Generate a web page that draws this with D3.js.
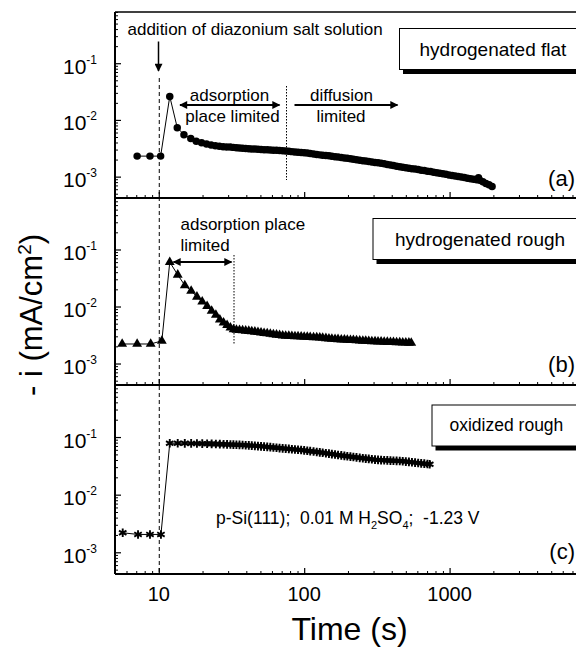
<!DOCTYPE html>
<html><head><meta charset="utf-8">
<script src="https://cdn.jsdelivr.net/npm/d3@7"></script>
<style>
body{margin:0;background:#fff}
svg{display:block}
text{font-family:"Liberation Sans",Arial,Helvetica,sans-serif;fill:#000}
</style>
</head><body>
<svg id="c" width="576" height="648"></svg>
<script>
// ---- data ----
const timeA = [7.1, 8.7, 10.3, 11.9, 13.4, 14.9, 16.6, 18.1, 19.7, 21.3, 22.9, 24.5, 26.1, 27.7, 29.3, 31, 32.6, 34.2, 35.9, 37.7, 39.6, 41.6, 43.6, 45.8, 48.1, 50.5, 53, 55.7, 58.5, 61.4, 64.5, 67.7, 71.1, 74.6, 78.4, 82.3, 86.4, 90.7, 95.3, 100, 105, 110, 116, 122, 128, 134, 141, 148, 155, 163, 171, 180, 189, 198, 208, 218, 229, 241, 253, 265, 278, 292, 307, 322, 338, 355, 373, 392, 411, 432, 454, 476, 500, 525, 551, 579, 608, 638, 670, 704, 739, 776, 815, 855, 898, 943, 990, 1040, 1092, 1146, 1204, 1264, 1327, 1393, 1463, 1536, 1580, 1613, 1694, 1778, 1867, 1960];
const currentA = [2.3e-3, 2.3e-3, 2.3e-3, 0.026, 7.3e-3, 5.5e-3, 4.7e-3, 4.2e-3, 3.95e-3, 3.75e-3, 3.6e-3, 3.5e-3, 3.42e-3, 3.37e-3, 3.33e-3, 3.32e-3, 3.28e-3, 3.24e-3, 3.21e-3, 3.17e-3, 3.14e-3, 3.1e-3, 3.08e-3, 3.06e-3, 3.03e-3, 3.01e-3, 2.99e-3, 2.97e-3, 2.95e-3, 2.93e-3, 2.91e-3, 2.88e-3, 2.85e-3, 2.82e-3, 2.79e-3, 2.76e-3, 2.73e-3, 2.7e-3, 2.67e-3, 2.64e-3, 2.6e-3, 2.55e-3, 2.51e-3, 2.46e-3, 2.42e-3, 2.39e-3, 2.35e-3, 2.33e-3, 2.29e-3, 2.25e-3, 2.21e-3, 2.17e-3, 2.13e-3, 2.1e-3, 2.06e-3, 2.02e-3, 1.99e-3, 1.95e-3, 1.91e-3, 1.88e-3, 1.85e-3, 1.82e-3, 1.78e-3, 1.75e-3, 1.72e-3, 1.68e-3, 1.64e-3, 1.6e-3, 1.57e-3, 1.53e-3, 1.5e-3, 1.47e-3, 1.44e-3, 1.41e-3, 1.38e-3, 1.36e-3, 1.33e-3, 1.3e-3, 1.28e-3, 1.25e-3, 1.23e-3, 1.2e-3, 1.17e-3, 1.15e-3, 1.12e-3, 1.1e-3, 1.07e-3, 1.05e-3, 1.03e-3, 1.01e-3, 9.85e-4, 9.62e-4, 9.4e-4, 9.2e-4, 9.0e-4, 8.8e-4, 9.6e-4, 8.6e-4, 8.1e-4, 7.6e-4, 7.2e-4, 6.7e-4];

const timeB = [5.6, 7.1, 8.8, 10.5, 11.9, 13.5, 15.1, 16.7, 18.3, 19.9, 21.5, 23.1, 24.7, 26.3, 27.9, 29.5, 31.1, 32.7, 34.2, 35.9, 37.7, 39.6, 41.6, 43.6, 45.8, 48.1, 50.5, 53, 55.7, 58.5, 61.4, 64.5, 67.7, 71.1, 74.6, 78.4, 82.3, 86.4, 90.7, 95.3, 100, 105, 110, 116, 122, 128, 134, 141, 148, 155, 163, 171, 180, 189, 198, 208, 218, 229, 241, 253, 265, 278, 292, 307, 322, 338, 355, 373, 392, 411, 432, 454, 476, 500, 525, 545];
const currentB = [2.2e-3, 2.2e-3, 2.2e-3, 2.5e-3, 0.06, 0.036, 0.0235, 0.0188, 0.0148, 0.0122, 0.0101, 8.4e-3, 7.1e-3, 5.85e-3, 5.2e-3, 4.7e-3, 4.25e-3, 3.95e-3, 3.9e-3, 3.85e-3, 3.8e-3, 3.75e-3, 3.71e-3, 3.66e-3, 3.6e-3, 3.54e-3, 3.48e-3, 3.42e-3, 3.36e-3, 3.31e-3, 3.25e-3, 3.19e-3, 3.14e-3, 3.09e-3, 3.06e-3, 3.04e-3, 3.02e-3, 3.0e-3, 2.98e-3, 2.96e-3, 2.94e-3, 2.92e-3, 2.9e-3, 2.88e-3, 2.86e-3, 2.83e-3, 2.8e-3, 2.77e-3, 2.74e-3, 2.71e-3, 2.68e-3, 2.66e-3, 2.63e-3, 2.61e-3, 2.59e-3, 2.57e-3, 2.56e-3, 2.54e-3, 2.52e-3, 2.5e-3, 2.49e-3, 2.47e-3, 2.45e-3, 2.44e-3, 2.42e-3, 2.41e-3, 2.4e-3, 2.38e-3, 2.37e-3, 2.36e-3, 2.35e-3, 2.34e-3, 2.33e-3, 2.32e-3, 2.31e-3, 2.3e-3];

const timeC = [5.65, 7.2, 8.7, 10.35, 11.9, 13.5, 15.1, 16.7, 18.3, 19.9, 21.5, 23.1, 24.7, 26.3, 27.9, 29.5, 31.1, 32.6, 34.2, 35.9, 37.7, 39.6, 41.6, 43.6, 45.8, 48.1, 50.5, 53, 55.7, 58.5, 61.4, 64.5, 67.7, 71.1, 74.6, 78.4, 82.3, 86.4, 90.7, 95.3, 100, 105, 110, 116, 122, 128, 134, 141, 148, 155, 163, 171, 180, 189, 198, 208, 218, 229, 241, 253, 265, 278, 292, 307, 322, 338, 355, 373, 392, 411, 432, 454, 476, 500, 525, 551, 579, 608, 638, 670, 704, 730];
const currentC = [2.18e-3, 2.04e-3, 2.04e-3, 2.04e-3, 0.078, 0.078, 0.0778, 0.0775, 0.0772, 0.0769, 0.0765, 0.0761, 0.0757, 0.0753, 0.0749, 0.0745, 0.0741, 0.0738, 0.0735, 0.0731, 0.0727, 0.0722, 0.0716, 0.071, 0.0704, 0.0697, 0.069, 0.0683, 0.0675, 0.0667, 0.0659, 0.0651, 0.0643, 0.0636, 0.0629, 0.0622, 0.0615, 0.0608, 0.0602, 0.0595, 0.0587, 0.0578, 0.0569, 0.056, 0.0551, 0.0542, 0.0533, 0.0524, 0.0515, 0.0506, 0.0497, 0.0488, 0.048, 0.0472, 0.0465, 0.0457, 0.045, 0.0443, 0.0436, 0.0429, 0.0423, 0.0417, 0.0411, 0.0405, 0.0401, 0.0398, 0.0395, 0.0393, 0.039, 0.0388, 0.0386, 0.0384, 0.038, 0.0375, 0.037, 0.0365, 0.036, 0.0355, 0.035, 0.0345, 0.0341, 0.0337];

const xMajorTicks = [10, 100, 1000];
const xTickLabels = ["10", "100", "1000"];
const yMajorTicks = [1e-1, 1e-2, 1e-3];
const yTickExponents = ["-1", "-2", "-3"];
const panelLabels = ["(a)", "(b)", "(c)"];
const legendNames = ["hydrogenated flat", "hydrogenated rough", "oxidized rough"];
const markerShapes = ["circle", "triangle", "asterisk"];
const additionTime = 10;

// ---- layout ----
const svg = d3.select("#c");
const x = d3.scaleLog().domain([5, 10000]).range([115, 595]);
const yDomain = [4.2e-4, 0.8];
const bounds = [[12, 198], [198, 385], [385, 574]];
const series = [[timeA, currentA], [timeB, currentB], [timeC, currentC]];

const xMinor = [];
for (let k = 0; k <= 3; k++) for (let m = 2; m <= 9; m++) {
  const v = m * Math.pow(10, k);
  if (v >= 5 && v <= 10000 && !xMajorTicks.includes(v)) xMinor.push(v);
}
const yMinor = [];
for (let k = -4; k <= -1; k++) for (let m = 2; m <= 9; m++) {
  const v = m * Math.pow(10, k);
  if (v >= yDomain[0] && v <= yDomain[1]) yMinor.push(v);
}

const defs = svg.append("defs");
defs.append("marker").attr("id", "ah").attr("viewBox", "0 0 10 10").attr("refX", 9).attr("refY", 5)
  .attr("markerWidth", 10).attr("markerHeight", 8).attr("markerUnits", "userSpaceOnUse")
  .attr("orient", "auto-start-reverse")
  .append("path").attr("d", "M0,0L10,5L0,10Z").attr("fill", "#000");

const ys = [];
bounds.forEach(([top, bottom], i) => {
  const y = d3.scaleLog().domain(yDomain).range([bottom, top]);
  ys.push(y);
  const gx0 = x.range()[0];

  const gm = svg.append("g").attr("transform", `translate(${gx0},0)`)
    .call(d3.axisLeft(y).tickValues(yMinor).tickSize(-3).tickFormat(""));
  gm.select(".domain").remove();
  gm.selectAll("line").attr("stroke", "#000").attr("stroke-width", 1);
  const gM = svg.append("g").attr("transform", `translate(${gx0},0)`)
    .call(d3.axisLeft(y).tickValues(yMajorTicks).tickSize(-6).tickFormat(""));
  gM.select(".domain").remove();
  gM.selectAll("line").attr("stroke", "#000").attr("stroke-width", 1.2);

  const xm = svg.append("g").attr("transform", `translate(0,${bottom})`)
    .call(d3.axisBottom(x).tickValues(xMinor).tickSize(-3).tickFormat(""));
  xm.select(".domain").remove();
  xm.selectAll("line").attr("stroke", "#000").attr("stroke-width", 1);
  const xM = svg.append("g").attr("transform", `translate(0,${bottom})`)
    .call(d3.axisBottom(x).tickValues(xMajorTicks).tickSize(-6).tickFormat(""));
  xM.select(".domain").remove();
  xM.selectAll("line").attr("stroke", "#000").attr("stroke-width", 1.2);

  yMajorTicks.forEach((v, j) => {
    const t = svg.append("text").attr("x", 97).attr("y", y(v) + 10.5)
      .attr("text-anchor", "end").attr("font-size", 21).text("10");
    t.append("tspan").attr("dy", -10).attr("font-size", 12).text(yTickExponents[j]);
  });

  svg.append("line").attr("x1", gx0).attr("x2", 600).attr("y1", bottom).attr("y2", bottom)
    .attr("stroke", "#000").attr("stroke-width", 2);
  svg.append("line").attr("x1", gx0).attr("x2", gx0).attr("y1", top).attr("y2", bottom)
    .attr("stroke", "#000").attr("stroke-width", 2);
});
svg.append("line").attr("x1", x.range()[0]).attr("x2", 600).attr("y1", bounds[0][0]).attr("y2", bounds[0][0])
  .attr("stroke", "#000").attr("stroke-width", 1.3);

xMajorTicks.forEach((v, j) => {
  svg.append("text").attr("x", x(v)).attr("y", 600.5).attr("text-anchor", "middle")
    .attr("font-size", 20).text(xTickLabels[j]);
});

svg.append("text").attr("x", 349.5).attr("y", 640).attr("text-anchor", "middle")
  .attr("font-size", 32).text("Time (s)");
const yt = svg.append("text").attr("transform", "translate(42,315) rotate(-90)")
  .attr("text-anchor", "middle").attr("font-size", 31).text("- i (mA/cm");
yt.append("tspan").attr("dy", -11).attr("font-size", 19).text("2");
yt.append("tspan").attr("dy", 11).text(")");

svg.append("line").attr("x1", x(additionTime) + 0.5).attr("x2", x(additionTime) + 0.5)
  .attr("y1", 78).attr("y2", bounds[2][1])
  .attr("stroke", "#000").attr("stroke-width", 1).attr("stroke-dasharray", "4,3");

const symbolTypes = {circle: [d3.symbolCircle, 44], triangle: [d3.symbolTriangle, 42], asterisk: [d3.symbolAsterisk, 52]};
series.forEach(([ts, vs], i) => {
  const y = ys[i];
  const pts = ts.map((t, k) => [t, vs[k]]);
  svg.append("path").datum(pts)
    .attr("d", d3.line().x(d => x(d[0])).y(d => y(d[1])))
    .attr("fill", "none").attr("stroke", "#000").attr("stroke-width", 1);
  const [type, size] = symbolTypes[markerShapes[i]];
  const stroked = markerShapes[i] === "asterisk";
  svg.append("g").selectAll("path").data(pts).join("path")
    .attr("transform", d => `translate(${x(d[0])},${y(d[1])})`)
    .attr("d", d3.symbol(type, size))
    .attr("fill", stroked ? "none" : "#000")
    .attr("stroke", "#000").attr("stroke-width", stroked ? 1.9 : 0);
});

const legendBoxes = [[399.5, 28.5, 41, 19, 419.5, 56], [373, 218.5, 41, 19, 395, 245.5], [432, 405, 41, 17.5, 449.5, 431]];
legendBoxes.forEach(([bx, by, bh, fs, tx, ty], i) => {
  svg.append("rect").attr("x", bx + 3.5).attr("y", by + 4.5).attr("width", 240).attr("height", bh).attr("fill", "#000");
  svg.append("rect").attr("x", bx).attr("y", by).attr("width", 240).attr("height", bh)
    .attr("fill", "#fff").attr("stroke", "#000").attr("stroke-width", 1);
  svg.append("text").attr("x", tx).attr("y", ty).attr("font-size", fs).text(legendNames[i]);
});

[186, 372, 559].forEach((yy, i) => {
  svg.append("text").attr("x", 575).attr("y", yy).attr("text-anchor", "end").attr("font-size", 22).text(panelLabels[i]);
});

svg.append("text").attr("x", 127.5).attr("y", 35).attr("font-size", 17).text("addition of diazonium salt solution");
svg.append("line").attr("x1", 158.5).attr("x2", 158.5).attr("y1", 41.5).attr("y2", 71)
  .attr("stroke", "#000").attr("stroke-width", 1.5).attr("marker-end", "url(#ah)");
svg.append("text").attr("x", 229.5).attr("y", 100.5).attr("text-anchor", "middle").attr("font-size", 17).text("adsorption");
svg.append("text").attr("x", 232.5).attr("y", 121.5).attr("text-anchor", "middle").attr("font-size", 17).text("place limited");
svg.append("line").attr("x1", 180).attr("x2", 279.5).attr("y1", 105).attr("y2", 105)
  .attr("stroke", "#000").attr("stroke-width", 2).attr("marker-start", "url(#ah)").attr("marker-end", "url(#ah)");
svg.append("line").attr("x1", 286.5).attr("x2", 286.5).attr("y1", 86).attr("y2", 180)
  .attr("stroke", "#000").attr("stroke-width", 1).attr("stroke-dasharray", "1.5,1.5");
svg.append("text").attr("x", 341.5).attr("y", 100.5).attr("text-anchor", "middle").attr("font-size", 17).text("diffusion");
svg.append("text").attr("x", 341).attr("y", 121.5).attr("text-anchor", "middle").attr("font-size", 17).text("limited");
svg.append("line").attr("x1", 294.5).attr("x2", 397.5).attr("y1", 105).attr("y2", 105)
  .attr("stroke", "#000").attr("stroke-width", 2).attr("marker-end", "url(#ah)");

svg.append("text").attr("x", 180.5).attr("y", 230).attr("font-size", 17).text("adsorption place");
svg.append("text").attr("x", 180.5).attr("y", 250.5).attr("font-size", 17).text("limited");
svg.append("line").attr("x1", 173.5).attr("x2", 231.5).attr("y1", 262).attr("y2", 262)
  .attr("stroke", "#000").attr("stroke-width", 2).attr("marker-start", "url(#ah)").attr("marker-end", "url(#ah)");
svg.append("line").attr("x1", 234).attr("x2", 234).attr("y1", 255).attr("y2", 344)
  .attr("stroke", "#000").attr("stroke-width", 1).attr("stroke-dasharray", "1.5,1.5");

const cond = svg.append("text").attr("x", 216).attr("y", 523.5).attr("font-size", 17.5).attr("xml:space", "preserve");
cond.append("tspan").text("p-Si(111);  0.01 M H");
cond.append("tspan").attr("dy", 5).attr("font-size", 11).text("2");
cond.append("tspan").attr("dy", -5).text("SO");
cond.append("tspan").attr("dy", 5).attr("font-size", 11).text("4");
cond.append("tspan").attr("dy", -5).text(";  -1.23 V");
</script>
</body></html>
